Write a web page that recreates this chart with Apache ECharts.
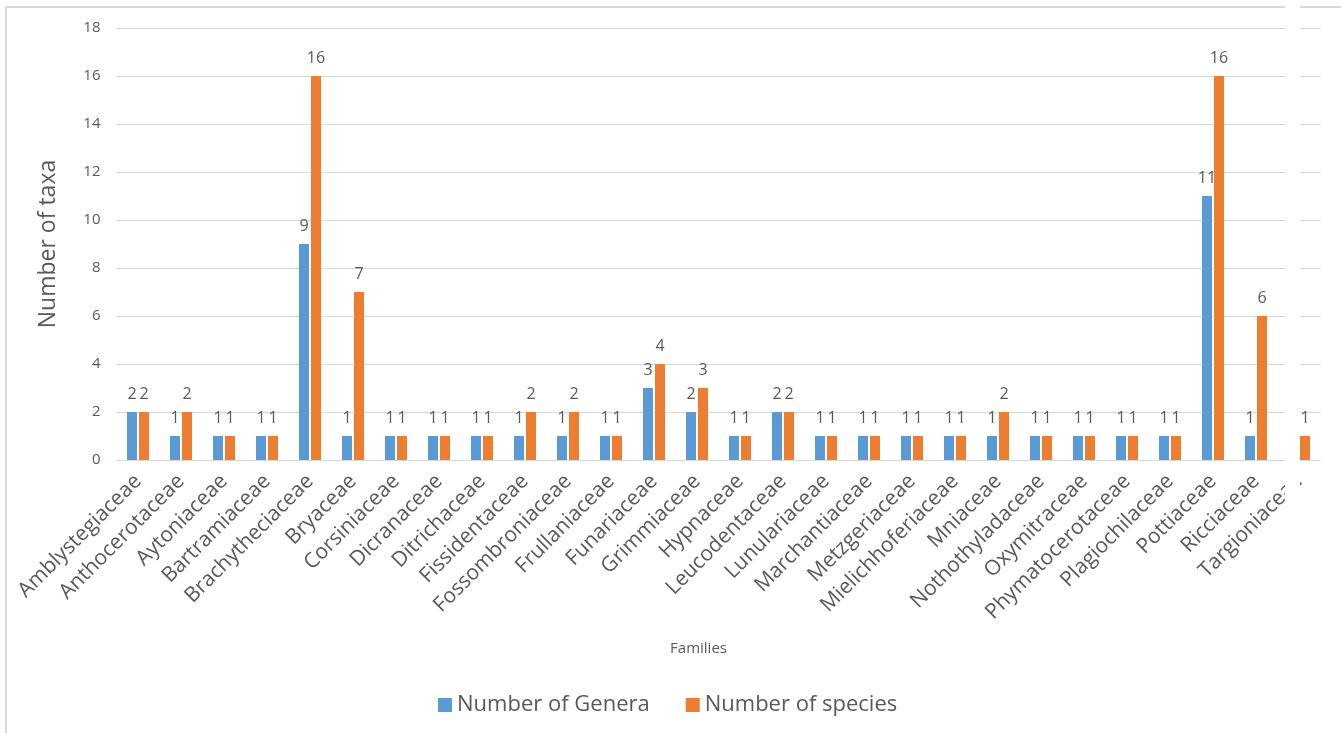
<!DOCTYPE html>
<html>
<head>
<meta charset="utf-8">
<title>Families – genera and species</title>
<script src="https://cdn.jsdelivr.net/npm/echarts@6/dist/echarts.min.js"></script>
<style>
  html, body { margin: 0; padding: 0; background: #ffffff; }
  #chart { width: 1341px; height: 733px; }
</style>
</head>
<body>
<div id="chart"></div>
<script>
// Families along the x axis
const families = [
  'Amblystegiaceae', 'Anthocerotaceae', 'Aytoniaceae', 'Bartramiaceae',
  'Brachytheciaceae', 'Bryaceae', 'Corsiniaceae', 'Dicranaceae',
  'Ditrichaceae', 'Fissidentaceae', 'Fossombroniaceae', 'Frullaniaceae',
  'Funariaceae', 'Grimmiaceae', 'Hypnaceae', 'Leucodentaceae',
  'Lunulariaceae', 'Marchantiaceae', 'Metzgeriaceae', 'Mielichhoferiaceae',
  'Mniaceae', 'Nothothyladaceae', 'Oxymitraceae', 'Phymatocerotaceae',
  'Plagiochilaceae', 'Pottiaceae', 'Ricciaceae', 'Targioniaceae'
];

// Number of genera per family (no genera value shown for Targioniaceae)
const generaCounts = [
  2, 1, 1, 1, 9, 1, 1, 1, 1, 1, 1, 1, 3, 2,
  1, 2, 1, 1, 1, 1, 1, 1, 1, 1, 1, 11, 1, null
];

// Number of species per family
const speciesCounts = [
  2, 2, 1, 1, 16, 7, 1, 1, 1, 2, 2, 1, 4, 3,
  1, 2, 1, 1, 1, 1, 2, 1, 1, 1, 1, 16, 6, 1
];

const yTicks = { min: 0, max: 18, interval: 2 };

const textColor = '#595959';
const gridColor = '#d9d9d9';
const fontFamily = '"Open Sans", "Noto Sans", sans-serif';

const chart = echarts.init(document.getElementById('chart'), null, { renderer: 'canvas' });

const labelStyle = {
  show: true,
  position: 'top',
  distance: 10,
  color: textColor,
  fontSize: 16,
  fontFamily: fontFamily
};

chart.setOption({
  animation: false,
  backgroundColor: '#ffffff',
  textStyle: { fontFamily: fontFamily },
  grid: { left: 116.5, right: 20.5, top: 28, bottom: 273, containLabel: false },
  legend: {
    bottom: 12,
    left: 433,
    itemWidth: 14,
    itemHeight: 14,
    itemGap: 36,
    icon: 'rect',
    textStyle: { color: textColor, fontSize: 22, fontFamily: fontFamily },
    data: ['Number of Genera', 'Number of species']
  },
  xAxis: {
    type: 'category',
    data: families,
    name: 'Families',
    nameLocation: 'middle',
    nameGap: 181,
    nameTextStyle: { color: textColor, fontSize: 15, fontFamily: fontFamily, padding: [0, 40, 0, 0] },
    axisLine: { show: true, lineStyle: { color: gridColor, width: 1 } },
    axisTick: { show: false },
    axisLabel: {
      rotate: 45,
      interval: 0,
      margin: 18,
      color: textColor,
      fontSize: 21,
      fontFamily: fontFamily
    }
  },
  yAxis: {
    type: 'value',
    min: yTicks.min,
    max: yTicks.max,
    interval: yTicks.interval,
    name: 'Number of taxa',
    nameLocation: 'middle',
    nameGap: 57,
    nameTextStyle: { color: textColor, fontSize: 23, fontFamily: fontFamily },
    axisLine: { show: false },
    axisTick: { show: false },
    axisLabel: { color: textColor, fontSize: 15, margin: 16, fontFamily: fontFamily },
    splitLine: { lineStyle: { color: gridColor, width: 1 } }
  },
  series: [
    {
      name: 'Number of Genera',
      type: 'bar',
      data: generaCounts,
      barWidth: 10,
      barGap: '20%',
      itemStyle: { color: '#5b9bd5' },
      label: labelStyle
    },
    {
      name: 'Number of species',
      type: 'bar',
      data: speciesCounts,
      barWidth: 10,
      itemStyle: { color: '#ed7d31' },
      label: labelStyle
    }
  ],
  graphic: [
    // chart area border
    {
      type: 'rect',
      silent: true,
      z: -1,
      shape: { x: 6, y: 7, width: 1400, height: 800 },
      style: { fill: 'none', stroke: gridColor, lineWidth: 2 }
    },
    // blank seam near the right edge
    {
      type: 'rect',
      silent: true,
      z: 100,
      shape: { x: 1285, y: 0, width: 15, height: 733 },
      style: { fill: '#ffffff' }
    }
  ]
});
</script>
</body>
</html>
